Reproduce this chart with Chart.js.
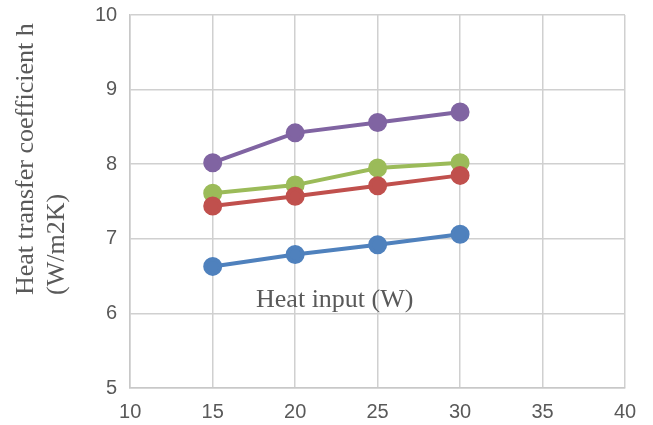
<!DOCTYPE html>
<html>
<head>
<meta charset="utf-8">
<script src="https://cdn.jsdelivr.net/npm/chart.js@4"></script>
<style>
  body { margin: 0; background: #fff; }
  #wrap { width: 653px; height: 425px; }
</style>
</head>
<body>
<div id="wrap"><canvas id="h-chart"></canvas></div>
<script>
var heatInput = [15, 20, 25, 30];
var seriesBlue = [6.63, 6.79, 6.92, 7.06];
var seriesRed = [7.44, 7.57, 7.71, 7.85];
var seriesGreen = [7.61, 7.72, 7.95, 8.02];
var seriesPurple = [8.02, 8.42, 8.56, 8.70];
var yTitle = ['Heat transfer coefficient h', '(W/m2K)'];
var xTitle = 'Heat input (W)';

function pts(ys) {
  return heatInput.map(function (x, i) { return { x: x, y: ys[i] }; });
}

function line(ys, color) {
  return {
    data: pts(ys),
    showLine: true,
    borderColor: color,
    backgroundColor: color,
    borderWidth: 4,
    pointRadius: 7.5,
    pointHoverRadius: 7.5
  };
}

// axis titles are placed oddly in the original (x one inside the plot,
// y one not centred), so draw them by hand
var titles = {
  id: 'titles',
  afterDraw: function (chart) {
    var ctx = chart.ctx;
    var x = chart.scales.x, y = chart.scales.y;
    var area = chart.chartArea;
    ctx.save();
    ctx.font = '26px "Liberation Serif", "Times New Roman", serif';
    ctx.fillStyle = '#595959';
    ctx.textBaseline = 'middle';
    ctx.textAlign = 'center';
    ctx.fillText(xTitle, x.getPixelForValue(22.4), y.getPixelForValue(6.18));

    ctx.translate(0, area.bottom - 93);
    ctx.rotate(-Math.PI / 2);
    ctx.textAlign = 'left';
    ctx.fillText(yTitle[0], 0, 26);
    ctx.fillText(yTitle[1], 0, 57);
    ctx.restore();
  }
};

new Chart("h-chart", {
  type: "scatter",
  data: {
    datasets: [
      line(seriesBlue, "#4F81BD"),
      line(seriesRed, "#C0504D"),
      line(seriesGreen, "#9BBB59"),
      line(seriesPurple, "#8064A2")
    ]
  },
  options: {
    responsive: true,
    maintainAspectRatio: false,
    animation: false,
    layout: { padding: { top: 0, right: 28, left: 82, bottom: -11 } },
    plugins: {
      legend: { display: false },
      tooltip: { enabled: false }
    },
    scales: {
      x: {
        min: 10, max: 40,
        ticks: { stepSize: 5, color: '#595959', font: { family: 'Liberation Sans', size: 20 }, padding: 12 },
        grid: { color: '#d0d0d0', lineWidth: 1.5, drawTicks: false },
        border: { color: '#c8c8c8', width: 1.5 }
      },
      y: {
        min: 5, max: 10,
        ticks: { stepSize: 1, color: '#595959', font: { family: 'Liberation Sans', size: 20 }, padding: 13 },
        grid: { color: '#d0d0d0', lineWidth: 1.5, drawTicks: false },
        border: { color: '#c8c8c8', width: 1.5 },
        afterFit: function (scale) {
          scale.paddingTop = 15;
          scale.paddingBottom = 0;
        }
      }
    }
  },
  plugins: [titles]
});
</script>
</body>
</html>
